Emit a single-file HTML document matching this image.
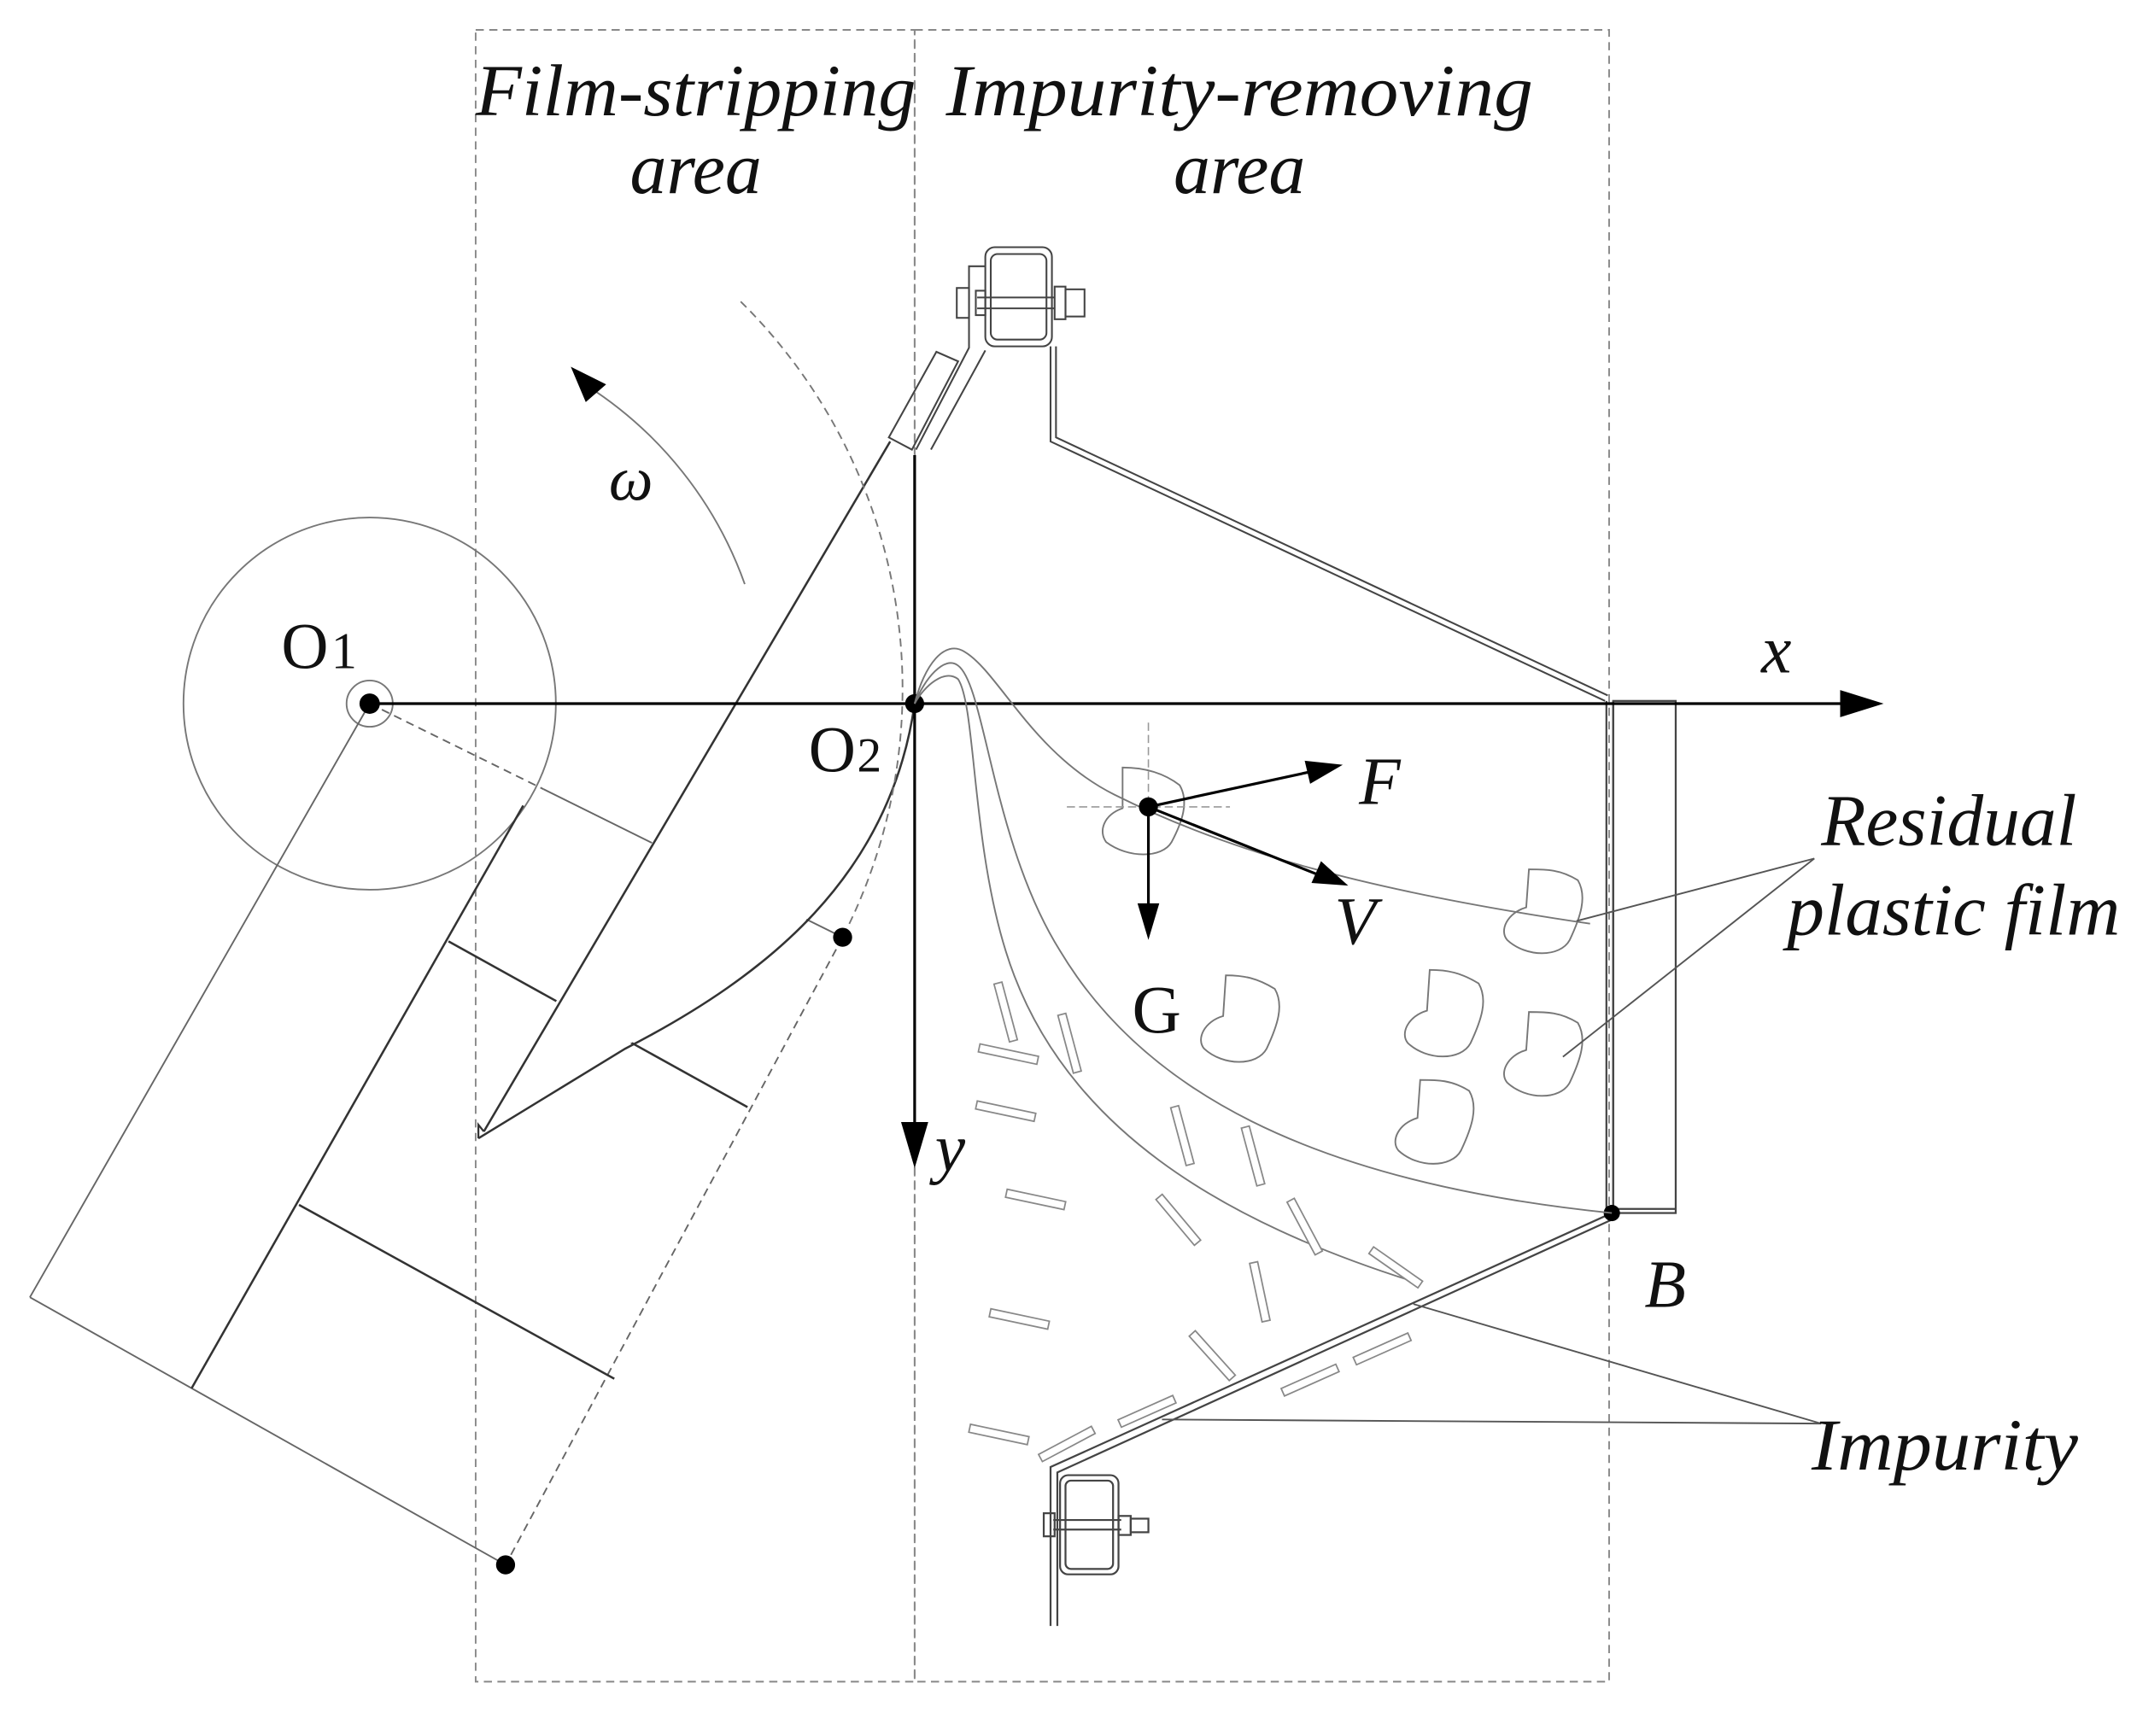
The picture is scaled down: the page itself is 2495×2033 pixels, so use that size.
<!DOCTYPE html>
<html><head><meta charset="utf-8"><style>
html,body{margin:0;padding:0;background:#fff;}
svg{display:block;}
text{font-family:"Liberation Serif",serif;font-style:italic;fill:#111;}
</style></head><body>
<svg width="2495" height="2033" viewBox="0 0 1568 1278" preserveAspectRatio="none" xmlns="http://www.w3.org/2000/svg">
<!-- area rectangles -->
<g fill="none" stroke="#888" stroke-width="1.2" stroke-dasharray="6,4">
<rect x="350" y="22" width="323" height="1216"/>
<rect x="673" y="22" width="511" height="1216"/>
</g>
<text x="512" y="85" font-size="54" text-anchor="middle" textLength="324" lengthAdjust="spacingAndGlyphs">Film-stripping</text>
<text x="512" y="142" font-size="54" text-anchor="middle">area</text>
<text x="912" y="85" font-size="54" text-anchor="middle" textLength="432" lengthAdjust="spacingAndGlyphs">Impurity-removing</text>
<text x="912" y="142" font-size="54" text-anchor="middle">area</text>

<!-- O1 circles -->
<circle cx="272" cy="518" r="137" fill="none" stroke="#777" stroke-width="1.2"/>
<circle cx="272" cy="518" r="17" fill="none" stroke="#777" stroke-width="1.2"/>
<!-- rotated frame -->
<g stroke="#666" stroke-width="1.2" fill="none">
<line x1="272" y1="518" x2="22" y2="955"/>
<line x1="22" y1="955" x2="372" y2="1152"/>
<line x1="272" y1="518" x2="400" y2="581" stroke-dasharray="6,4"/>
<line x1="400" y1="581" x2="620" y2="690"/>
<line x1="620" y1="690" x2="372" y2="1152" stroke-dasharray="6,4"/>
</g>
<g stroke="#333" stroke-width="1.6">
<line x1="141" y1="1022" x2="385" y2="593"/>
<line x1="330" y1="693" x2="550" y2="815"/>
<line x1="220" y1="887" x2="452" y2="1015"/>
</g>
<!-- blade -->
<path d="M352,832 L660,322 L673,335 L673,518 C650,650 560,720 460,770 Z" fill="#fff" stroke="none"/>
<path d="M356,833 L655,325" stroke="#333" stroke-width="1.6" fill="none"/>
<path d="M352,838 L352,828 L356,833" stroke="#333" stroke-width="1.4" fill="none"/>
<path d="M352,838 L460,772 C565,718 655,645 673,518" stroke="#333" stroke-width="1.6" fill="none"/>
<path d="M545,222 A401,401 0 0 1 620,690" stroke="#777" stroke-width="1.2" stroke-dasharray="6,4" fill="none"/>
<!-- omega arc -->
<path d="M548,430 A288,288 0 0 0 432,284" stroke="#777" stroke-width="1.2" fill="none"/>
<path d="M420,270 L446,283 L431,296 Z" fill="#000"/>
<text x="448" y="368" font-size="46">ω</text>

<!-- top bracket -->
<g fill="none" stroke="#444" stroke-width="1.3">
<rect x="725" y="182" width="49" height="73" rx="7"/>
<rect x="729" y="187" width="41" height="63" rx="5"/>
<line x1="719" y1="219" x2="776" y2="219"/>
<line x1="719" y1="227" x2="776" y2="227"/>
<rect x="704" y="212" width="9" height="22"/>
<rect x="718" y="214" width="7" height="18"/>
<rect x="776" y="211" width="8" height="24"/>
<rect x="784" y="213" width="14" height="20"/>
<path d="M725,196 L713,196 L713,256 L674,331"/>
<path d="M725,258 L685,331"/>
<path d="M689,259 L705,266 L671,331 L654,322 Z"/>
<path d="M773,255 L773,325 L1181,516"/>
<path d="M777,255 L777,322 L1183,512"/>
</g>
<line x1="673" y1="335" x2="673" y2="518" stroke="#000" stroke-width="2"/>

<!-- right panel -->
<g fill="none" stroke="#444" stroke-width="1.4">
<line x1="1182" y1="516" x2="1182" y2="893"/>
<line x1="1187" y1="516" x2="1187" y2="893"/>
<rect x="1187" y="516" width="46" height="377"/>
<line x1="1187" y1="890" x2="1233" y2="890"/>
<path d="M1186,893 L773,1080 L773,1197"/>
<path d="M1188,897 L778,1084 L778,1197"/>
<rect x="780" y="1086" width="43" height="73" rx="6"/>
<rect x="784" y="1090" width="35" height="65" rx="4"/>
<line x1="775" y1="1119" x2="825" y2="1119"/>
<line x1="775" y1="1126" x2="825" y2="1126"/>
<rect x="768" y="1114" width="8" height="17"/>
<rect x="823" y="1116" width="9" height="14"/>
<rect x="832" y="1118" width="13" height="10"/>
</g>

<!-- axes -->
<line x1="272" y1="518" x2="1360" y2="518" stroke="#000" stroke-width="2"/>
<path d="M1386,518 L1354,508 L1354,528 Z" fill="#000"/>
<line x1="673" y1="518" x2="673" y2="832" stroke="#000" stroke-width="2"/>
<path d="M673,860 L663,826 L683,826 Z" fill="#000"/>
<circle cx="272" cy="518" r="7.5" fill="#000"/>
<circle cx="673" cy="518" r="7" fill="#000"/>
<circle cx="620" cy="690" r="7" fill="#000"/>
<circle cx="372" cy="1152" r="7" fill="#000"/>
<circle cx="1186" cy="893" r="6" fill="#000"/>

<!-- trajectories -->
<g fill="none" stroke="#777" stroke-width="1.2">
<path d="M673,518 C680,490 695,470 710,480 C735,495 760,555 820,585 C900,625 1000,655 1170,680"/>
<path d="M673,518 C680,500 695,482 705,490 C725,505 730,620 780,700 C840,800 960,870 1186,893"/>
<path d="M673,518 C680,505 695,492 705,500 C718,520 715,620 740,700 C780,830 900,900 1045,945"/>
</g>
<!-- films -->
<g fill="none" stroke="#777" stroke-width="1.2">
<path d="M826,565 L826,595 C812,600 808,612 814,620 C830,632 855,632 862,620 C870,605 875,590 868,578 C855,568 840,565 826,565 Z"/>
<path d="M902,718 L900,748 C886,752 880,765 886,772 C900,785 925,785 932,772 C940,755 945,740 938,728 C925,720 915,718 902,718 Z"/>
<path d="M1052,714 L1050,744 C1036,748 1030,761 1036,768 C1050,781 1075,781 1082,768 C1090,751 1095,736 1088,724 C1075,716 1065,714 1052,714 Z"/>
<path d="M1125,640 L1123,668 C1109,672 1103,685 1109,692 C1123,705 1148,705 1155,692 C1163,675 1168,660 1161,648 C1148,640 1138,640 1125,640 Z"/>
<path d="M1125,745 L1123,773 C1109,777 1103,790 1109,797 C1123,810 1148,810 1155,797 C1163,780 1168,765 1161,753 C1148,745 1138,745 1125,745 Z"/>
<path d="M1045,795 L1043,823 C1029,827 1023,840 1029,847 C1043,860 1068,860 1075,847 C1083,830 1088,815 1081,803 C1068,795 1058,795 1045,795 Z"/>
</g>
<!-- impurities -->
<g fill="#fff" stroke="#888" stroke-width="1.1">
<rect x="720" y="773" width="44" height="6" transform="rotate(12 742 776)"/>
<rect x="718" y="815" width="44" height="6" transform="rotate(12 740 818)"/>
<rect x="740" y="880" width="44" height="6" transform="rotate(12 762 883)"/>
<rect x="728" y="968" width="44" height="6" transform="rotate(12 750 971)"/>
<rect x="713" y="1053" width="44" height="6" transform="rotate(12 735 1056)"/>
<rect x="718" y="742" width="44" height="6" transform="rotate(75 740 745)"/>
<rect x="765" y="765" width="44" height="6" transform="rotate(75 787 768)"/>
<rect x="848" y="833" width="44" height="6" transform="rotate(75 870 836)"/>
<rect x="900" y="848" width="44" height="6" transform="rotate(75 922 851)"/>
<rect x="845" y="895" width="44" height="6" transform="rotate(50 867 898)"/>
<rect x="938" y="900" width="44" height="6" transform="rotate(62 960 903)"/>
<rect x="905" y="948" width="44" height="6" transform="rotate(78 927 951)"/>
<rect x="870" y="995" width="44" height="6" transform="rotate(48 892 998)"/>
<rect x="1005" y="930" width="44" height="6" transform="rotate(35 1027 933)"/>
<rect x="942" y="1013" width="44" height="6" transform="rotate(-24 964 1016)"/>
<rect x="995" y="990" width="44" height="6" transform="rotate(-24 1017 993)"/>
<rect x="822" y="1036" width="44" height="6" transform="rotate(-24 844 1039)"/>
<rect x="763" y="1060" width="44" height="6" transform="rotate(-28 785 1063)"/>
</g>
<!-- leaders -->
<g stroke="#555" stroke-width="1.2">
<line x1="1335" y1="632" x2="1160" y2="678"/>
<line x1="1335" y1="632" x2="1150" y2="778"/>
<line x1="1340" y1="1048" x2="1040" y2="960"/>
<line x1="1340" y1="1048" x2="855" y2="1045"/>
</g>
<!-- forces -->
<g stroke="#999" stroke-width="1" stroke-dasharray="6,3">
<line x1="785" y1="594" x2="905" y2="594"/>
<line x1="845" y1="532" x2="845" y2="650"/>
</g>
<g stroke="#000" stroke-width="2">
<line x1="845" y1="594" x2="965" y2="568"/>
<line x1="845" y1="594" x2="970" y2="644"/>
<line x1="845" y1="594" x2="845" y2="668"/>
</g>
<path d="M988,563 L960,560 L964,577 Z" fill="#000"/>
<path d="M992,652 L972,634 L965,650 Z" fill="#000"/>
<path d="M845,692 L837,665 L853,665 Z" fill="#000"/>
<circle cx="845" cy="594" r="7" fill="#000"/>

<!-- labels -->
<text x="207" y="492" font-size="48" style="font-style:normal">O<tspan font-size="38" dx="2">1</tspan></text>
<text x="595" y="568" font-size="48" style="font-style:normal">O<tspan font-size="36" dx="1">2</tspan></text>
<text x="1296" y="495" font-size="50">x</text>
<text x="688" y="862" font-size="50">y</text>
<text x="1000" y="592" font-size="50">F</text>
<text x="982" y="695" font-size="50">V</text>
<text x="833" y="760" font-size="50" style="font-style:normal">G</text>
<text x="1210" y="962" font-size="50">B</text>
<text x="1340" y="622" font-size="54" textLength="188" lengthAdjust="spacingAndGlyphs">Residual</text>
<text x="1315" y="688" font-size="54" textLength="245" lengthAdjust="spacingAndGlyphs">plastic film</text>
<text x="1333" y="1082" font-size="54" textLength="196" lengthAdjust="spacingAndGlyphs">Impurity</text>
</svg>
</body></html>
